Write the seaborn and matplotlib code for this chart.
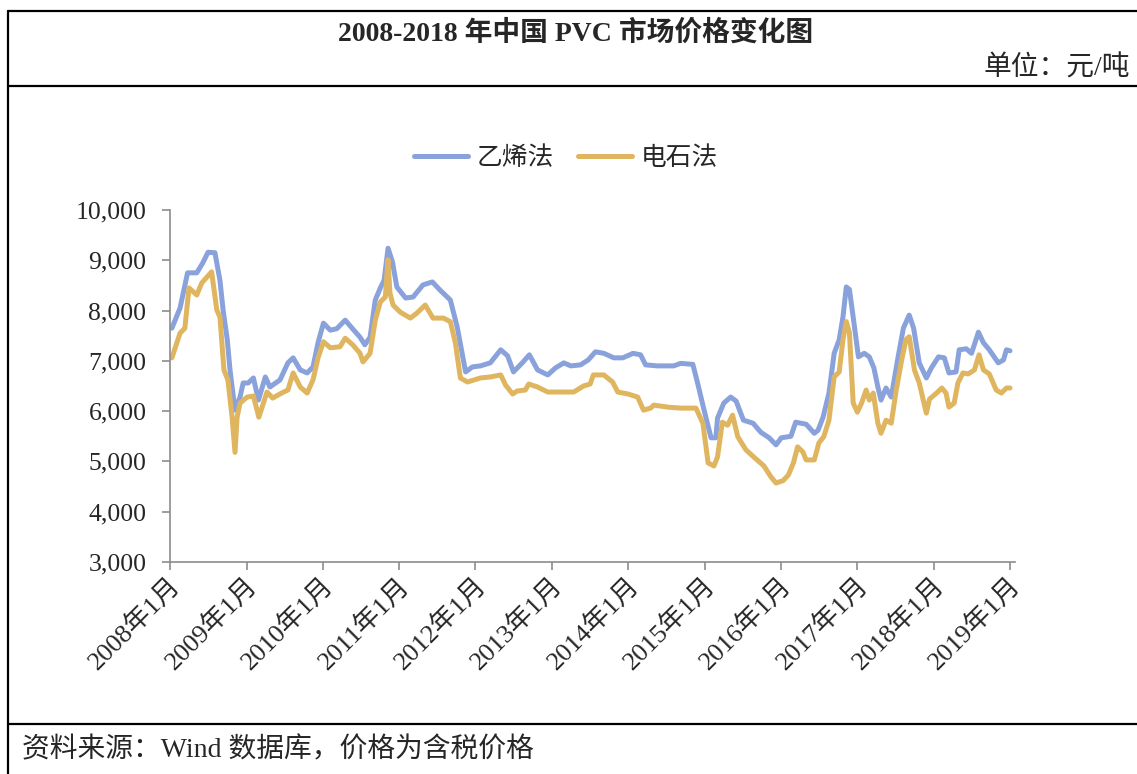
import pandas as pd
import matplotlib.pyplot as plt
import matplotlib.ticker as mticker
import matplotlib.transforms as mtransforms
from matplotlib.lines import Line2D
import seaborn as sns

# 乙烯法 (ethylene process) price, yuan/ton
eth_dates = [
    "2008-01-10", "2008-02-18", "2008-03-25", "2008-05-08", "2008-06-06", "2008-07-01",
    "2008-08-03", "2008-08-27", "2008-09-11", "2008-10-01", "2008-10-14", "2008-11-07",
    "2008-12-01", "2008-12-16", "2009-01-09", "2009-02-03", "2009-02-27", "2009-04-01",
    "2009-04-23", "2009-06-10", "2009-07-18", "2009-08-12", "2009-09-15", "2009-10-18",
    "2009-11-15", "2009-12-09", "2010-01-04", "2010-02-06", "2010-03-09", "2010-04-18",
    "2010-05-21", "2010-06-28", "2010-07-21", "2010-08-15", "2010-09-09", "2010-10-03",
    "2010-10-21", "2010-11-09", "2010-11-30", "2010-12-21", "2011-02-01", "2011-03-09",
    "2011-04-25", "2011-06-09", "2011-07-15", "2011-09-03", "2011-10-06", "2011-11-15",
    "2011-12-18", "2012-01-25", "2012-03-12", "2012-05-01", "2012-06-03", "2012-07-01",
    "2012-08-12", "2012-09-15", "2012-10-24", "2012-12-12", "2013-01-18", "2013-02-27",
    "2013-04-01", "2013-05-18", "2013-06-24", "2013-07-28", "2013-09-06", "2013-10-24",
    "2013-12-06", "2014-01-24", "2014-03-01", "2014-03-25", "2014-05-21", "2014-08-06",
    "2014-09-09", "2014-11-06", "2014-12-01", "2014-12-28", "2015-02-01", "2015-02-24",
    "2015-03-04", "2015-04-03", "2015-05-06", "2015-06-01", "2015-07-06", "2015-08-21",
    "2015-09-27", "2015-11-06", "2015-12-09", "2016-01-03", "2016-02-18", "2016-03-12",
    "2016-05-01", "2016-06-09", "2016-06-27", "2016-07-21", "2016-08-18", "2016-09-12",
    "2016-10-06", "2016-10-24", "2016-11-09", "2016-11-24", "2016-12-12", "2017-01-06",
    "2017-02-03", "2017-02-27", "2017-03-21", "2017-04-09", "2017-04-24", "2017-05-18",
    "2017-06-12", "2017-07-15", "2017-08-09", "2017-09-06", "2017-09-27", "2017-10-24",
    "2017-11-27", "2017-12-21", "2018-01-24", "2018-02-21", "2018-03-15", "2018-04-18",
    "2018-05-03", "2018-06-06", "2018-07-01", "2018-08-03", "2018-08-27", "2018-09-24",
    "2018-11-06", "2018-12-01", "2018-12-15", "2019-01-01",
]
eth_prices = [
    7650, 8050, 8750, 8750, 8950, 9160,
    9150, 8600, 8010, 7420, 6820, 6020,
    6280, 6560, 6560, 6660, 6220, 6680,
    6480, 6620, 6960, 7060, 6820, 6760,
    6880, 7360, 7750, 7610, 7640, 7810,
    7650, 7470, 7320, 7470, 8210, 8450,
    8600, 9240, 8970, 8470, 8250, 8270,
    8510, 8570, 8410, 8210, 7670, 6780,
    6880, 6900, 6960, 7220, 7100, 6780,
    6960, 7120, 6820, 6720, 6860, 6960,
    6900, 6920, 7020, 7180, 7150, 7060,
    7060, 7150, 7120, 6920, 6900, 6900,
    6950, 6930, 6520, 6050, 5470, 5470,
    5860, 6160, 6280, 6200, 5820, 5760,
    5580, 5470, 5330, 5470, 5500, 5780,
    5740, 5560, 5620, 5880, 6360, 7150,
    7420, 7870, 8470, 8420, 7870, 7080,
    7150, 7080, 6860, 6480, 6220, 6460,
    6280, 7080, 7650, 7910, 7650, 6960,
    6660, 6860, 7080, 7060, 6760, 6780,
    7220, 7240, 7150, 7570, 7360, 7220,
    6960, 7020, 7220, 7200,
]

# 电石法 (calcium carbide process) price, yuan/ton
carb_dates = [
    "2008-01-10", "2008-02-18", "2008-03-12", "2008-04-01", "2008-05-08", "2008-06-01",
    "2008-07-18", "2008-08-12", "2008-08-27", "2008-09-15", "2008-10-04", "2008-10-24",
    "2008-11-07", "2008-11-17", "2008-12-01", "2009-01-04", "2009-02-03", "2009-03-01",
    "2009-04-09", "2009-05-06", "2009-06-18", "2009-07-18", "2009-08-12", "2009-09-15",
    "2009-10-18", "2009-11-15", "2009-12-09", "2010-01-04", "2010-02-06", "2010-03-24",
    "2010-04-18", "2010-05-24", "2010-06-28", "2010-07-12", "2010-08-15", "2010-09-09",
    "2010-10-03", "2010-10-27", "2010-11-09", "2010-11-18", "2010-12-03", "2011-01-06",
    "2011-02-24", "2011-03-27", "2011-05-06", "2011-06-12", "2011-08-01", "2011-09-03",
    "2011-09-27", "2011-10-21", "2011-11-24", "2012-01-25", "2012-03-12", "2012-05-01",
    "2012-05-24", "2012-06-27", "2012-07-18", "2012-08-27", "2012-09-12", "2012-10-24",
    "2012-12-12", "2013-04-15", "2013-06-01", "2013-07-03", "2013-07-18", "2013-09-06",
    "2013-10-18", "2013-11-12", "2014-01-01", "2014-02-15", "2014-03-15", "2014-04-18",
    "2014-05-03", "2014-07-09", "2014-09-09", "2014-11-21", "2014-12-24", "2015-01-18",
    "2015-02-15", "2015-03-04", "2015-03-27", "2015-04-21", "2015-05-15", "2015-06-09",
    "2015-07-18", "2015-08-24", "2015-10-12", "2015-11-15", "2015-12-09", "2016-01-12",
    "2016-02-06", "2016-03-01", "2016-03-21", "2016-04-15", "2016-05-01", "2016-06-09",
    "2016-07-01", "2016-07-24", "2016-08-18", "2016-09-12", "2016-10-06", "2016-10-24",
    "2016-11-09", "2016-11-24", "2016-12-12", "2017-01-01", "2017-01-21", "2017-02-12",
    "2017-02-27", "2017-03-18", "2017-04-09", "2017-04-24", "2017-05-18", "2017-06-12",
    "2017-07-06", "2017-08-01", "2017-08-21", "2017-09-06", "2017-10-01", "2017-10-24",
    "2017-11-27", "2017-12-12", "2018-01-15", "2018-02-09", "2018-03-01", "2018-03-15",
    "2018-04-09", "2018-04-27", "2018-05-21", "2018-06-15", "2018-07-15", "2018-08-06",
    "2018-08-27", "2018-09-24", "2018-10-27", "2018-11-21", "2018-12-15", "2019-01-01",
]
carb_prices = [
    7060, 7550, 7650, 8450, 8310, 8550,
    8770, 8010, 7870, 6820, 6620, 5880,
    5180, 5880, 6160, 6280, 6300, 5880,
    6380, 6260, 6360, 6420, 6760, 6480,
    6360, 6620, 7060, 7380, 7260, 7280,
    7450, 7320, 7150, 6980, 7150, 7810,
    8170, 8270, 9010, 8350, 8110, 7970,
    7850, 7950, 8110, 7850, 7850, 7780,
    7360, 6660, 6580, 6660, 6680, 6720,
    6520, 6340, 6400, 6420, 6540, 6480,
    6380, 6380, 6500, 6540, 6720, 6720,
    6580, 6380, 6340, 6280, 6020, 6060,
    6120, 6080, 6060, 6060, 5760, 4970,
    4910, 5090, 5780, 5720, 5920, 5490,
    5230, 5090, 4910, 4690, 4570, 4620,
    4730, 4970, 5290, 5190, 5030, 5030,
    5370, 5490, 5820, 6680, 6780, 7420,
    7780, 7560, 6160, 5980, 6160, 6420,
    6220, 6360, 5760, 5560, 5820, 5760,
    6420, 7020, 7420, 7480, 6820, 6560,
    5960, 6240, 6360, 6460, 6360, 6080,
    6160, 6560, 6760, 6740, 6820, 7120,
    6820, 6740, 6420, 6360, 6460, 6460,
]

series_names = ["乙烯法", "电石法"]
series_colors = ["#8AA2DB", "#E0B55F"]
tick_years = list(range(2008, 2020))

df = pd.concat([
    pd.DataFrame({"date": pd.to_datetime(eth_dates), "price": eth_prices, "type": series_names[0]}),
    pd.DataFrame({"date": pd.to_datetime(carb_dates), "price": carb_prices, "type": series_names[1]}),
])

sns.set_style("white")
plt.rcParams["font.family"] = ["Liberation Serif", "Noto Sans CJK SC"]
plt.rcParams["axes.unicode_minus"] = False

fig = plt.figure(figsize=(11.37, 7.74), dpi=100)
ax = fig.add_axes([170 / 1137, 1 - 562 / 774, (1015 - 170) / 1137, (562 - 210) / 774])

sns.lineplot(data=df, x="date", y="price", hue="type", palette=series_colors,
             linewidth=3.6, ax=ax, legend=True)

ax.set_ylim(3000, 10000)
ax.set_xlim(pd.Timestamp("2008-01-01"), pd.Timestamp("2019-01-25"))
ax.yaxis.set_major_locator(mticker.MultipleLocator(1000))
ax.yaxis.set_major_formatter(mticker.FuncFormatter(lambda v, p: f"{int(v):,}"))
ticks = [pd.Timestamp(f"{y}-01-01") for y in tick_years]
ax.set_xticks(ticks)
ax.set_xticklabels([f"{y}年1月" for y in tick_years], rotation=45, ha="right",
                   rotation_mode="anchor", fontsize=19)
ax.tick_params(axis="y", labelsize=18.5, length=6, width=1.2, color="#8c8c8c",
               direction="out", left=True, pad=11)
ax.tick_params(axis="x", length=6, width=1.2, color="#8c8c8c", direction="out", bottom=True, pad=2)
shift = mtransforms.ScaledTranslation(-2 / 100, 0, fig.dpi_scale_trans)
for lbl in ax.get_xticklabels():
    lbl.set_transform(lbl.get_transform() + shift)
ax.set_xlabel("")
ax.set_ylabel("")
for s in ["top", "right"]:
    ax.spines[s].set_visible(False)
for s in ["left", "bottom"]:
    ax.spines[s].set_color("#8c8c8c")
    ax.spines[s].set_linewidth(1.2)

handles, labels = ax.get_legend_handles_labels()
ax.legend(handles, labels, loc="center", bbox_to_anchor=(566 / 1137, 1 - 158 / 774),
          bbox_transform=fig.transFigure, ncol=2, frameon=False, fontsize=18.5,
          handlelength=2.1, columnspacing=0.9, handletextpad=0.35)

# frame of the report box
lw = 1.6
for yy in [11, 86, 724]:
    fig.add_artist(Line2D([8 / 1137, 1], [1 - yy / 774] * 2, color="black", lw=lw, transform=fig.transFigure))
fig.add_artist(Line2D([8 / 1137] * 2, [0, 1 - 11 / 774], color="black", lw=lw, transform=fig.transFigure))

fig.text(576 / 1137, 1 - 33 / 774, "2008-2018 年中国 PVC 市场价格变化图", ha="center", va="center",
         fontsize=20, fontweight="bold")
fig.text(1130 / 1137, 1 - 68 / 774, "单位：元/吨", ha="right", va="center", fontsize=20)
fig.text(22 / 1137, 1 - 750 / 774, "资料来源：Wind 数据库，价格为含税价格", ha="left", va="center", fontsize=20)

fig.savefig("out.png", dpi=100)
